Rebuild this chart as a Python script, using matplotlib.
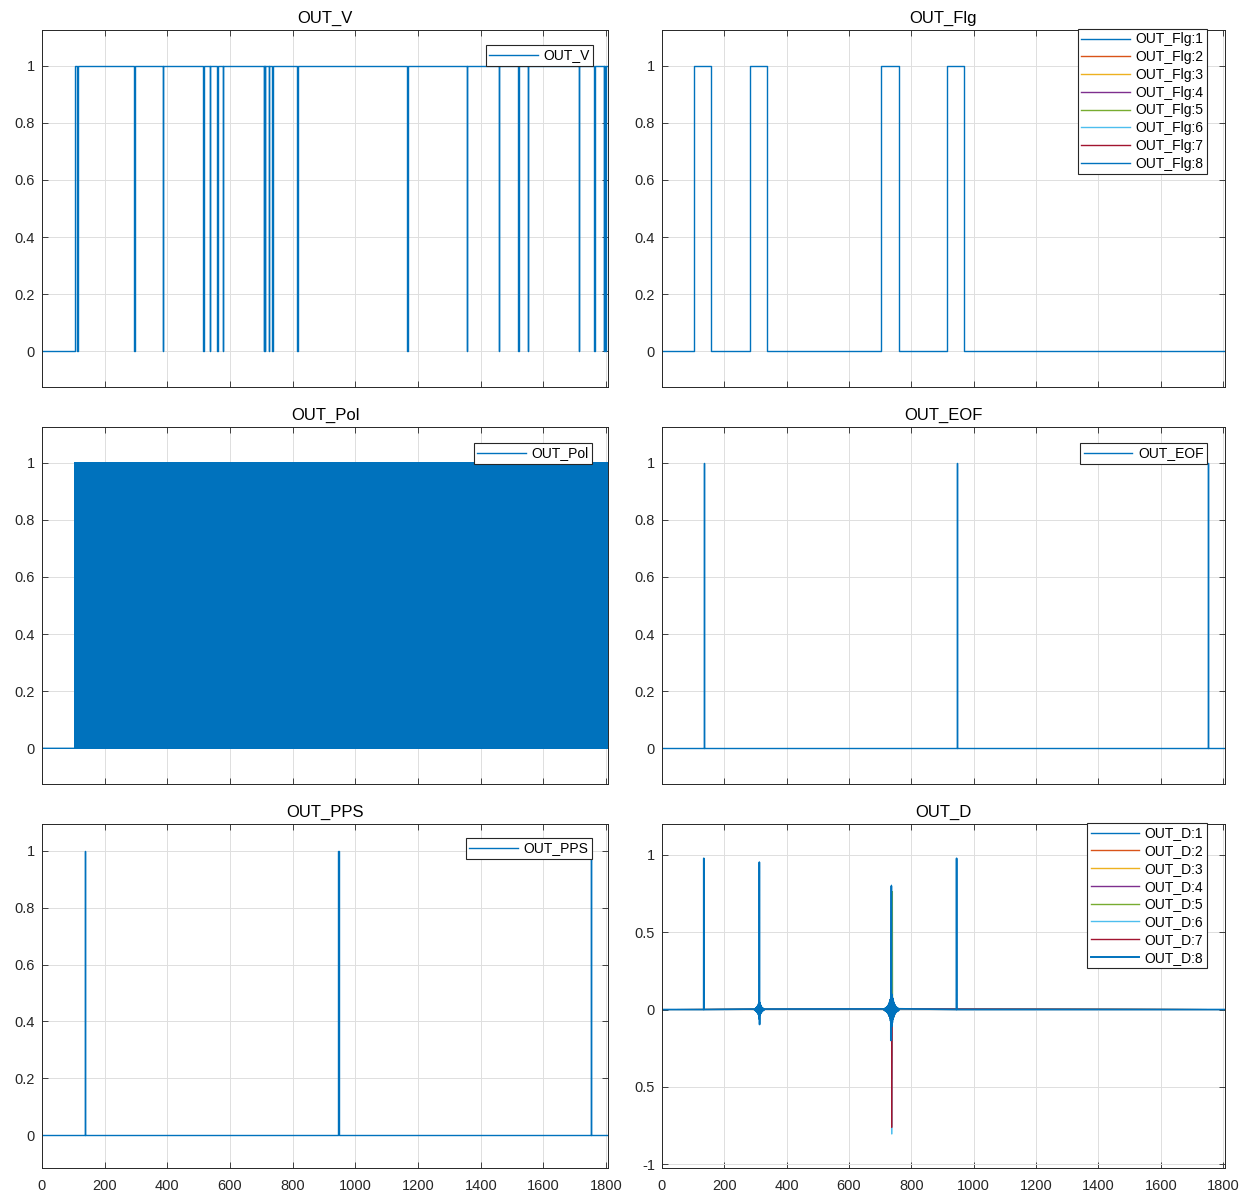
import matplotlib
matplotlib.use("Agg")
import matplotlib.pyplot as plt
import numpy as np

plt.rcParams['font.family'] = ['Liberation Sans', 'DejaVu Sans']

colors = ["#0072BD", "#D95319", "#EDB120", "#7E2F8E",
          "#77AC30", "#4DBEEE", "#A2142F", "#0072BD"]

x_end = 1806

# OUT_V: goes high at v_rise, then short drops to 0
v_rise = 104
v_dips = [113, 295, 386, 515, 536, 559, 578, 707, 712, 724, 735, 815,
          1166, 1356, 1458, 1520, 1551, 1712, 1762, 1792, 1798]
v_dip_len = 1.0

# OUT_Flg pulses, same on all 8 lines
flg_on = [104, 281, 703, 915]
flg_off = [158, 337, 759, 969]

# OUT_Pol toggles every half sample after pol_start
pol_start = 105
pol_step = 0.5

eof_times = [135, 946, 1750]
pps_times = [136, 946, 1752]
pulse_len = 1

# OUT_D
d_spike_t = [134, 312.3, 945]
d_spike_v = [0.978, 0.953, 0.978]
d_ring1_t = 312
d_ring1 = [0.003, -0.004, 0.005, -0.006, 0.008, -0.009, 0.011, -0.013,
           0.015, -0.018, 0.021, -0.024, 0.028, -0.032, 0.038, -0.06,
           0.12, -0.097, 0.045, -0.036, 0.03, -0.025, 0.021, -0.018,
           0.015, -0.013, 0.011, -0.009, 0.008, -0.006, 0.005, -0.004, 0.003]
d_ring2_t = 736
d_ring2 = [0.004, -0.005, 0.006, -0.007, 0.008, -0.009, 0.011, -0.012,
           0.014, -0.016, 0.018, -0.02, 0.023, -0.026, 0.029, -0.033,
           0.038, -0.043, 0.049, -0.056, 0.064, -0.073, 0.084, -0.097,
           0.11, -0.11, 0.097, -0.084, 0.073, -0.064, 0.056, -0.049,
           0.043, -0.038, 0.033, -0.029, 0.026, -0.023, 0.02, -0.018,
           0.016, -0.014, 0.012, -0.011, 0.009, -0.008, 0.007, -0.006, 0.005]
d_hi = [0.60, 0.30, 0.45, 0.35, 0.763, 0.806, 0.20, 0.80]
d_hi_t = [736.2, 736.2, 736.2, 736.2, 739.5, 736.2, 736.2, 735.8]
d_lo = [-0.30, -0.35, -0.30, -0.45, -0.25, -0.806, -0.763, -0.20]
d_lo_t = [736.7, 736.7, 736.7, 736.7, 736.7, 737.2, 737.2, 734.0]
d_tick_labels = ["-1", "0.5", "0", "0.5", "1"]

FIG_W, FIG_H = 1251, 1196
cols = [(42, 566), (662, 563)]
rows = [(30, 357), (427, 357), (824, 344)]
ylims = [(-0.125, 1.125), (-0.125, 1.125), (-0.116, 1.095)]

fig = plt.figure(figsize=(FIG_W / 100, FIG_H / 100), dpi=100)


def make_ax(r, c):
    x, w = cols[c]
    y, h = rows[r]
    ax = fig.add_axes([x / FIG_W, 1 - (y + h) / FIG_H, w / FIG_W, h / FIG_H])
    ax.set_xlim(0, x_end)
    ax.set_xticks(np.arange(0, 1801, 200))
    ax.grid(True, color="#dedede", lw=0.7)
    ax.set_axisbelow(True)
    ax.tick_params(direction="in", length=4, width=0.6, top=True, right=True,
                   labelsize=10.5, color="#262626", labelcolor="#262626")
    ax.tick_params(axis="x", pad=8)
    ax.tick_params(axis="y", pad=5)
    for s in ax.spines.values():
        s.set_color("#262626")
        s.set_linewidth(0.7)
    if r < 2:
        ax.set_xticklabels([])
    return ax, w, h


def legend(ax, w, h, right_px, top_px):
    leg = ax.legend(loc="upper right", bbox_to_anchor=(1 - right_px / w, 1 - top_px / h),
                    borderaxespad=0, fontsize=10, handlelength=3.5, handletextpad=0.4,
                    borderpad=0.25, labelspacing=0.27, fancybox=False, framealpha=1,
                    edgecolor="#262626")
    leg.get_frame().set_linewidth(0.8)
    for ln in leg.get_lines():
        ln.set_linewidth(1.0)


def set_unit_y(ax, r):
    ax.set_ylim(*ylims[r])
    ax.set_yticks([0, 0.2, 0.4, 0.6, 0.8, 1])
    ax.set_yticklabels(["0", "0.2", "0.4", "0.6", "0.8", "1"])


def pulse_steps(times):
    t = [0]
    v = [0]
    for p in times:
        t += [p, p + pulse_len]
        v += [1, 0]
    return t + [x_end], v + [0]


lw = 1.0
lw_under = 0.6  # channels that sit under the last one

# OUT_V
ax, w, h = make_ax(0, 0)
t = [0, v_rise]
v = [0, 1]
for d in v_dips:
    t += [d, d + v_dip_len]
    v += [0, 1]
ax.step(t + [x_end], v + [1], where="post", color=colors[0], lw=lw, label="OUT_V")
set_unit_y(ax, 0)
ax.set_title("OUT_V", fontsize=12, pad=5)
legend(ax, w, h, 15, 15)

# OUT_Flg
ax, w, h = make_ax(0, 1)
t = [0]
v = [0]
for a, b in zip(flg_on, flg_off):
    t += [a, b]
    v += [1, 0]
for i in range(8):
    ax.step(t + [x_end], v + [0], where="post", color=colors[i],
            lw=lw if i == 7 else lw_under, label="OUT_Flg:%d" % (i + 1))
set_unit_y(ax, 0)
ax.set_title("OUT_Flg", fontsize=12, pad=5)
legend(ax, w, h, 18, -1)

# OUT_Pol
ax, w, h = make_ax(1, 0)
pt = np.arange(pol_start, x_end, pol_step)
pv = (np.arange(len(pt)) + 1) % 2
ax.step(np.r_[0, pt], np.r_[0, pv], where="post", color=colors[0], lw=lw,
        label="OUT_Pol")
set_unit_y(ax, 1)
ax.set_title("OUT_Pol", fontsize=12, pad=5)
legend(ax, w, h, 16, 16)

# OUT_EOF
ax, w, h = make_ax(1, 1)
t, v = pulse_steps(eof_times)
ax.step(t, v, where="post", color=colors[0], lw=lw, label="OUT_EOF")
set_unit_y(ax, 1)
ax.set_title("OUT_EOF", fontsize=12, pad=5)
legend(ax, w, h, 18, 16)

# OUT_PPS
ax, w, h = make_ax(2, 0)
t, v = pulse_steps(pps_times)
ax.step(t, v, where="post", color=colors[0], lw=lw, label="OUT_PPS")
set_unit_y(ax, 2)
ax.set_title("OUT_PPS", fontsize=12, pad=5)
legend(ax, w, h, 16, 14)

# OUT_D
ax, w, h = make_ax(2, 1)
for i in range(8):
    pts = [(0, 0), (x_end, 0)]
    if i in (0, 7):
        for st, sv in zip(d_spike_t, d_spike_v):
            pts += [(st - 0.4, 0), (st, sv), (st + 0.4, 0)]
        n1 = len(d_ring1) // 2
        pts += [(d_ring1_t + k - n1, val) for k, val in enumerate(d_ring1)]
    n2 = len(d_ring2) // 2
    pts += [(d_ring2_t + k - n2, val) for k, val in enumerate(d_ring2)]
    pts += [(d_hi_t[i], d_hi[i]), (d_lo_t[i], d_lo[i])]
    pts.sort(key=lambda p: p[0])
    xs, ys = zip(*pts)
    ax.plot(xs, ys, color=colors[i], lw=1.2 if i == 7 else 0.7,
            label="OUT_D:%d" % (i + 1))
ax.set_ylim(-1.025, 1.2)
ax.set_yticks([-1, -0.5, 0, 0.5, 1])
ax.set_yticklabels(d_tick_labels)
ax.set_title("OUT_D", fontsize=12, pad=5)
legend(ax, w, h, 18, -1)
ax.get_legend().get_lines()[7].set_linewidth(1.4)

fig.savefig("out.png", dpi=100)
